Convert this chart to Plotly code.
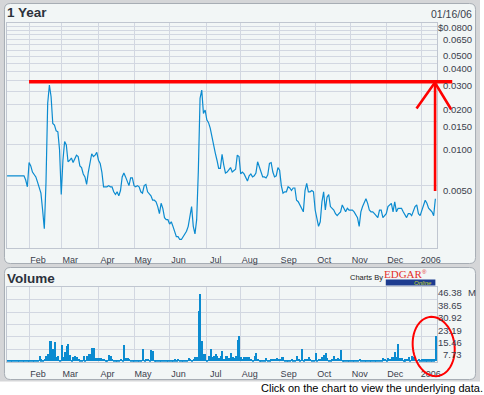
import math
import plotly.graph_objects as go

W, H = 484, 395

# ---------------- data ----------------
month_labels = ["Feb", "Mar", "Apr", "May", "Jun", "Jul", "Aug", "Sep", "Oct", "Nov", "Dec", "2006"]
month_start_idx = [13, 32, 54, 75, 96, 118, 138, 161, 182, 203, 224, 245]  # trading-day index

price = [
    0.0059, 0.0059, 0.0059, 0.0059, 0.0059, 0.0059, 0.0059, 0.0059, 0.0059, 0.0059,
    0.0059, 0.0055, 0.0049, 0.0074, 0.0070, 0.0063, 0.0060, 0.0058, 0.0053, 0.0049,
    0.0044, 0.0033, 0.0024, 0.0053, 0.0203, 0.0277, 0.0227, 0.0144, 0.0140, 0.0127,
    0.0125, 0.0092, 0.0043, 0.0077, 0.0106, 0.0100, 0.0075, 0.0077, 0.0080, 0.0074,
    0.0080, 0.0084, 0.0082, 0.0070, 0.0068, 0.0061, 0.0058, 0.0051, 0.0063, 0.0075,
    0.0086, 0.0082, 0.0084, 0.0088, 0.0077, 0.0073, 0.0063, 0.0049, 0.0049, 0.0049,
    0.0050, 0.0049, 0.0049, 0.0045, 0.0043, 0.0045, 0.0042, 0.0046, 0.0058, 0.0062,
    0.0058, 0.0053, 0.0050, 0.0057, 0.0057, 0.0050, 0.0049, 0.0050, 0.0049, 0.0045,
    0.0044, 0.0050, 0.0051, 0.0045, 0.0043, 0.0042, 0.0039, 0.0039, 0.0038, 0.0035,
    0.0031, 0.0037, 0.0034, 0.0029, 0.0028, 0.0028, 0.0026, 0.0027, 0.0025, 0.0023,
    0.0021, 0.0021, 0.0020, 0.0020, 0.0021, 0.0022, 0.0023, 0.0025, 0.0030, 0.0035,
    0.0025, 0.0022, 0.0028, 0.0065, 0.0221, 0.0254, 0.0171, 0.0181, 0.0153, 0.0146,
    0.0133, 0.0114, 0.0097, 0.0087, 0.0077, 0.0067, 0.0067, 0.0085, 0.0071, 0.0062,
    0.0063, 0.0065, 0.0068, 0.0063, 0.0065, 0.0066, 0.0084, 0.0082, 0.0061, 0.0063,
    0.0061, 0.0058, 0.0054, 0.0059, 0.0061, 0.0058, 0.0059, 0.0062, 0.0075, 0.0069,
    0.0062, 0.0058, 0.0058, 0.0057, 0.0060, 0.0073, 0.0074, 0.0063, 0.0058, 0.0059,
    0.0068, 0.0065, 0.0050, 0.0044, 0.0045, 0.0045, 0.0049, 0.0048, 0.0046, 0.0048,
    0.0048, 0.0039, 0.0038, 0.0036, 0.0034, 0.0032, 0.0046, 0.0052, 0.0045, 0.0045,
    0.0046, 0.0045, 0.0033, 0.0028, 0.0025, 0.0027, 0.0038, 0.0045, 0.0033, 0.0041,
    0.0043, 0.0035, 0.0034, 0.0033, 0.0031, 0.0030, 0.0031, 0.0032, 0.0036, 0.0034,
    0.0032, 0.0034, 0.0033, 0.0033, 0.0033, 0.0032, 0.0030, 0.0029, 0.0025, 0.0032,
    0.0035, 0.0038, 0.0040, 0.0037, 0.0033, 0.0032, 0.0032, 0.0031, 0.0030, 0.0029,
    0.0033, 0.0033, 0.0029, 0.0030, 0.0031, 0.0035, 0.0036, 0.0037, 0.0032, 0.0038,
    0.0032, 0.0034, 0.0034, 0.0034, 0.0032, 0.0030, 0.0029, 0.0031, 0.0031, 0.0030,
    0.0033, 0.0035, 0.0036, 0.0031, 0.0030, 0.0033, 0.0036, 0.0039, 0.0037, 0.0034,
    0.0033, 0.0032, 0.0030, 0.0040,
]

volume_m = [
    0.6, 0.5, 0.6, 0.7, 0.5, 0.6, 0.6, 0.5, 0.7, 0.6,
    0.5, 0.6, 0.6, 0.7, 0.8, 0.6, 0.7, 0.6, 0.8, 3.5,
    1.2, 0.8, 1.5, 3.1, 4.8, 12.9, 12.9, 7.5, 11.8, 2.6,
    3.1, 1.0, 10.4, 2.6, 5.6, 9.4, 11.0, 4.2, 0.9, 2.7,
    3.1, 2.5, 1.5, 1.0, 1.0, 3.5, 1.0, 3.5, 4.8, 4.8,
    8.5, 8.5, 2.3, 1.9, 1.9, 1.9, 1.7, 1.7, 0.9, 0.8,
    3.9, 3.1, 1.5, 0.9, 0.9, 0.9, 0.9, 1.5, 0.9, 10.4,
    1.9, 1.9, 1.5, 0.6, 1.0, 0.8, 0.8, 0.8, 0.8, 1.0,
    7.9, 0.8, 1.5, 1.5, 0.8, 7.3, 6.4, 0.8, 0.8, 0.7,
    0.8, 0.8, 0.7, 0.8, 0.9, 0.8, 0.7, 0.8, 0.8, 1.2,
    0.8, 1.7, 0.8, 0.8, 0.8, 0.8, 1.0, 2.3, 1.5, 0.8,
    1.5, 2.7, 2.9, 31.6, 42.2, 12.9, 4.8, 4.8, 1.0, 3.5,
    7.9, 2.7, 3.5, 4.8, 3.5, 2.1, 3.1, 6.6, 1.5, 3.5,
    3.5, 1.9, 5.2, 2.5, 1.9, 3.1, 13.5, 16.0, 2.7, 1.5,
    2.7, 2.7, 2.7, 2.7, 1.5, 1.0, 3.1, 5.2, 1.5, 1.0,
    1.0, 1.0, 1.0, 1.9, 1.0, 0.8, 1.5, 1.5, 1.5, 1.9,
    1.5, 1.5, 2.7, 2.7, 1.0, 1.0, 1.0, 0.8, 1.5, 1.0,
    1.0, 3.1, 1.5, 1.0, 7.7, 1.0, 1.5, 1.5, 2.7, 1.5,
    1.0, 1.0, 5.2, 1.0, 1.5, 1.5, 2.7, 4.2, 5.2, 2.1,
    1.0, 1.0, 1.5, 3.1, 1.5, 1.9, 1.5, 7.3, 1.0, 0.8,
    0.8, 0.7, 0.8, 0.9, 0.8, 0.8, 0.7, 0.9, 1.5, 1.0,
    0.8, 0.8, 0.8, 0.8, 0.8, 0.8, 0.8, 0.8, 0.9, 0.8,
    0.9, 0.8, 1.9, 1.5, 0.9, 1.9, 1.5, 2.7, 2.7, 5.6,
    2.7, 11.0, 2.0, 1.9, 1.0, 1.2, 1.5, 2.5, 1.0, 3.3,
    2.5, 1.7, 1.0, 1.7, 1.0, 1.2, 1.2, 1.2, 1.2, 1.2,
    1.2, 1.2, 1.2, 15.8,
]

price_tick_vals = [0.08, 0.065, 0.05, 0.04, 0.03, 0.02, 0.015, 0.01, 0.005]
price_tick_text = ["$0.0800", "0.0650", "0.0500", "0.0400", "0.0300", "0.0200", "0.0150", "0.0100", "0.0050"]
price_grid_vals = [0.005, 0.01, 0.015, 0.02, 0.025, 0.03, 0.035, 0.04, 0.045, 0.05,
                   0.055, 0.06, 0.065, 0.07, 0.075, 0.08]
vol_tick_vals = [7.73, 15.46, 23.19, 30.92, 38.65, 46.38]
vol_tick_text = ["7.73", "15.46", "23.19", "30.92", "38.65", "46.38"]

assert len(price) == len(volume_m)
days = list(range(len(price)))

# ---------------- layout helpers ----------------
def px(x):
    return x / W

def py(y):
    return 1 - y / H

FONT = "Liberation Sans, Arial, sans-serif"
TXT = "#3a404c"
GRID = "#d2d7e1"
BLUE = "#0b8bd0"
RED = "#ff0000"

x_range = [-0.25, len(price)]
plot_l, plot_r = 6.7, 440.7

fig = go.Figure()
fig.add_trace(go.Scatter(x=days, y=price, mode="lines",
                         line=dict(color=BLUE, width=1.2), xaxis="x", yaxis="y",
                         hoverinfo="skip", showlegend=False))
fig.add_trace(go.Bar(x=days, y=volume_m, width=0.62, marker=dict(color=BLUE, line=dict(width=0)),
                     xaxis="x2", yaxis="y2", hoverinfo="skip", showlegend=False))

common_x = dict(range=x_range, tickmode="array", tickvals=month_start_idx, ticktext=month_labels,
                showgrid=True, gridcolor=GRID, gridwidth=1, zeroline=False,
                showline=True, mirror=True, linecolor="#c0c6d0", linewidth=1,
                ticks="", ticklabelshift=9, ticklabelstandoff=3,
                tickfont=dict(family=FONT, size=9, color=TXT), fixedrange=True)

shapes = []

def rounded_rect(x0, y0, x1, y1, r, fill, line):
    p = (f"M {px(x0 + r)} {py(y0)} L {px(x1 - r)} {py(y0)} "
         f"Q {px(x1)} {py(y0)} {px(x1)} {py(y0 + r)} L {px(x1)} {py(y1 - r)} "
         f"Q {px(x1)} {py(y1)} {px(x1 - r)} {py(y1)} L {px(x0 + r)} {py(y1)} "
         f"Q {px(x0)} {py(y1)} {px(x0)} {py(y1 - r)} L {px(x0)} {py(y0 + r)} "
         f"Q {px(x0)} {py(y0)} {px(x0 + r)} {py(y0)} Z")
    return dict(type="path", xref="paper", yref="paper", path=p, fillcolor=fill,
                line=dict(color=line, width=1), layer="below")

# outer gray frame
shapes.append(dict(type="rect", xref="paper", yref="paper", x0=0, x1=1, y0=py(381.5), y1=1,
                   fillcolor="#d5d6d8", line=dict(width=0), layer="below"))
shapes.append(rounded_rect(4.5, 3.5, 479.5, 263.5, 6, "#f2f6f6", "#a7adb4"))
shapes.append(rounded_rect(4.5, 267.5, 479.5, 379.5, 6, "#f2f6f6", "#a7adb4"))

# EDGAR Online logo bar
shapes.append(dict(type="rect", xref="paper", yref="paper", x0=px(389), x1=px(439), y0=py(285.5), y1=py(279.5),
                   fillcolor="#1d3c8f", line=dict(width=0), layer="above"))

# red hand-drawn overlays
shapes.append(dict(type="line", xref="paper", yref="paper", x0=px(29.3), x1=px(456), y0=py(81.8), y1=py(81.8),
                   line=dict(color=RED, width=3.5), layer="above"))
shapes.append(dict(type="line", xref="paper", yref="paper", x0=px(438.7), x1=px(438.7), y0=py(191), y1=py(84),
                   line=dict(color=RED, width=2.6), layer="above"))
shapes.append(dict(type="path", xref="paper", yref="paper",
                   path=f"M {px(420)} {py(108.5)} L {px(438.5)} {py(82.5)} L {px(455)} {py(109.5)}",
                   line=dict(color=RED, width=2.6), layer="above"))
# ellipse
cx, cy, rx, ry, rot = 437.3, 346.5, 21.0, 29.8, math.radians(-8)
pts = []
for k in range(73):
    t = 2 * math.pi * k / 72
    ex, ey = rx * math.cos(t), ry * math.sin(t)
    X = cx + ex * math.cos(rot) - ey * math.sin(rot)
    Y = cy + ex * math.sin(rot) + ey * math.cos(rot)
    pts.append(f"{px(X)} {py(Y)}")
shapes.append(dict(type="path", xref="paper", yref="paper", path="M " + " L ".join(pts) + " Z",
                   line=dict(color=RED, width=2), layer="above"))

annotations = []

def text(x, y, s, size, color=TXT, anchor="left", bold=False, family=FONT, italic=False):
    if bold:
        s = f"<b>{s}</b>"
    if italic:
        s = f"<i>{s}</i>"
    annotations.append(dict(x=px(x), y=py(y), xref="paper", yref="paper", text=s, showarrow=False,
                            xanchor=anchor, yanchor="middle",
                            font=dict(family=family, size=size, color=color)))

text(5.5, 12.8, "1 Year", 13.5, color="#2c323c", bold=True)
text(477.8, 13.6, "01/16/06", 10.5, anchor="right")
text(5.5, 278.2, "Volume", 13.5, color="#2c323c", bold=True)
text(388.5, 277.5, "Charts By", 7.5, color="#222222", anchor="right")
text(406.5, 274.3, "EDGAR", 11, color="#e4312b", anchor="center",
     family="Liberation Serif, Times New Roman, serif")
text(428.5, 272.0, "®", 6, color="#e4312b", anchor="center")
text(438, 282.6, "Online", 6, color="#c8d82a", anchor="right", italic=True)
text(261, 388.3, "Click on the chart to view the underlying data.", 11, color="#000000", anchor="left")

# price axis labels (right side, right-aligned)
for v, t in zip(price_tick_vals, price_tick_text):
    annotations.append(dict(x=px(477.5), y=math.log10(v), xref="paper", yref="y", text=t, showarrow=False,
                            xanchor="right", yanchor="middle", yshift=-5,
                            font=dict(family=FONT, size=9.5, color=TXT)))
# volume axis labels
for v, t in zip(vol_tick_vals, vol_tick_text):
    annotations.append(dict(x=px(467.5), y=v, xref="paper", yref="y2", text=t, showarrow=False,
                            xanchor="right", yanchor="middle", yshift=-5.5,
                            font=dict(family=FONT, size=9.5, color=TXT)))
annotations.append(dict(x=px(469.5), y=vol_tick_vals[-1], xref="paper", yref="y2", text="M", showarrow=False,
                        xanchor="left", yanchor="middle", yshift=-5.5,
                        font=dict(family=FONT, size=9.5, color=TXT)))

y_top = math.log10(0.08)
y_bot = y_top - (248.3 - 22.7) / 135.3

fig.update_layout(
    width=W, height=H,
    margin=dict(l=0, r=0, t=0, b=0, pad=0),
    paper_bgcolor="#ffffff", plot_bgcolor="#ffffff",
    showlegend=False, bargap=0,
    xaxis=dict(domain=[px(plot_l), px(plot_r)], anchor="y", **common_x),
    xaxis2=dict(domain=[px(plot_l), px(plot_r)], anchor="y2", **common_x),
    yaxis=dict(domain=[py(248.3), py(22.7)], type="log", range=[y_bot, y_top], anchor="x",
               tickmode="array", tickvals=price_grid_vals, showticklabels=False, ticks="",
               showgrid=True, gridcolor=GRID, gridwidth=1, zeroline=False,
               showline=True, mirror=True, linecolor="#c0c6d0", linewidth=1, fixedrange=True),
    yaxis2=dict(domain=[py(361.7), py(287.3)], range=[0, 46.38], anchor="x2",
                tickmode="array", tickvals=vol_tick_vals, showticklabels=False, ticks="",
                showgrid=True, gridcolor=GRID, gridwidth=1, zeroline=False,
                showline=True, mirror=True, linecolor="#c0c6d0", linewidth=1, fixedrange=True),
    shapes=shapes,
    annotations=annotations,
)

fig.write_html("out.html", config={"displayModeBar": False},
               post_script="document.body.style.margin='0px';document.body.style.overflow='hidden';")
